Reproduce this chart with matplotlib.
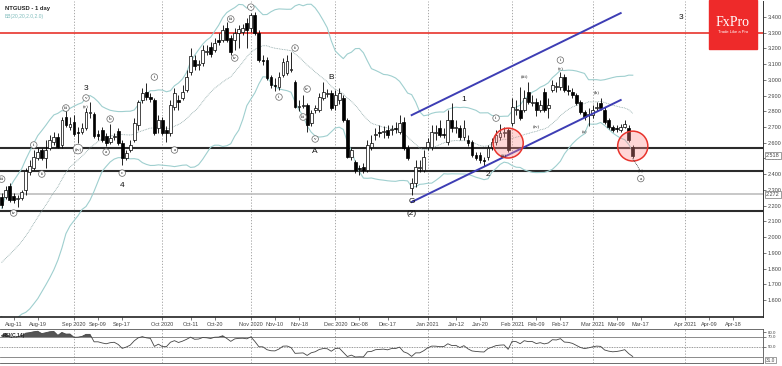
import numpy as np
import pandas as pd
import matplotlib
matplotlib.use("Agg")
import matplotlib.pyplot as plt
from matplotlib.patches import Ellipse
import matplotlib.transforms as mtrans

# ---------------- data ----------------
start_date = "2020-08-06"
opens = [2.255,2.255,2.325,2.261,2.242,2.249,2.299,2.414,2.439,2.503,2.554,2.503,2.567,2.605,2.637,2.586,2.764,2.700,2.732,2.668,
         2.668,2.694,2.789,2.783,2.656,2.681,2.643,2.605,2.637,2.675,2.598,2.503,2.554,2.617,2.713,2.872,2.923,2.891,2.872,2.694,
         2.745,2.681,2.662,2.827,2.872,2.885,2.936,3.050,3.126,3.095,3.107,3.177,3.209,3.190,3.254,3.254,3.330,3.266,3.254,3.298,
         3.304,3.362,3.330,3.413,3.298,3.126,3.126,3.018,2.967,2.955,3.031,3.044,3.063,2.986,2.827,2.834,2.840,2.726,2.808,2.808,
         2.885,2.910,2.916,2.840,2.872,2.885,2.745,2.509,2.478,2.439,2.446,2.427,2.573,2.649,2.668,2.668,2.681,2.681,2.694,2.668,
         2.732,2.567,2.312,2.344,2.439,2.427,2.573,2.573,2.662,2.694,2.656,2.605,2.745,2.694,2.694,2.637,2.617,2.605,2.522,2.522,
         2.490,2.509,2.573,2.605,2.637,2.662,2.681,2.726,2.808,2.808,2.808,2.923,2.853,2.859,2.808,2.923,2.821,2.936,2.955,2.955,
         3.018,2.936,2.923,2.904,2.859,2.796,2.776,2.776,2.821,2.853,2.808,2.745,2.700,2.694,2.681,2.700,2.694,2.573]
highs = [2.280,2.325,2.344,2.280,2.268,2.299,2.439,2.490,2.554,2.567,2.567,2.617,2.649,2.668,2.662,2.764,2.808,2.764,2.776,2.700,
         2.726,2.821,2.859,2.796,2.681,2.700,2.662,2.719,2.662,2.694,2.617,2.554,2.617,2.757,2.872,2.948,2.980,2.916,2.885,2.776,
         2.764,2.707,2.872,2.948,2.904,2.967,3.063,3.203,3.158,3.126,3.222,3.222,3.241,3.266,3.298,3.349,3.368,3.285,3.330,3.349,
         3.355,3.393,3.425,3.432,3.317,3.158,3.145,3.031,3.012,3.050,3.139,3.158,3.177,2.999,2.872,2.904,2.853,2.808,2.840,2.916,
         2.986,2.942,2.936,2.936,2.948,2.904,2.757,2.567,2.490,2.458,2.471,2.617,2.649,2.694,2.713,2.707,2.713,2.713,2.732,2.776,
         2.764,2.586,2.376,2.490,2.490,2.554,2.630,2.713,2.713,2.745,2.694,2.808,2.853,2.745,2.713,2.745,2.649,2.617,2.541,2.541,
         2.509,2.586,2.630,2.681,2.719,2.700,2.694,2.885,2.872,2.955,2.936,2.986,2.904,2.885,2.872,2.948,2.885,2.999,2.986,3.050,
         3.037,2.967,2.948,2.916,2.872,2.808,2.821,2.840,2.859,2.885,2.827,2.757,2.713,2.713,2.719,2.745,2.713,2.586]
lows = [2.185,2.242,2.223,2.217,2.191,2.236,2.268,2.395,2.427,2.490,2.490,2.439,2.554,2.586,2.567,2.567,2.700,2.681,2.643,2.598,
        2.656,2.681,2.757,2.630,2.617,2.605,2.579,2.592,2.617,2.586,2.458,2.490,2.541,2.605,2.681,2.853,2.872,2.859,2.649,2.662,
        2.649,2.605,2.643,2.808,2.808,2.872,2.923,3.031,3.063,3.063,3.088,3.158,3.145,3.177,3.222,3.241,3.241,3.158,3.190,3.203,
        3.285,3.203,3.304,3.285,3.114,3.095,2.999,2.948,2.929,2.936,3.018,3.031,3.050,2.821,2.802,2.821,2.668,2.707,2.789,2.796,
        2.872,2.891,2.808,2.808,2.846,2.732,2.503,2.490,2.408,2.395,2.408,2.414,2.554,2.617,2.637,2.630,2.630,2.649,2.662,2.656,
        2.554,2.490,2.268,2.318,2.414,2.414,2.554,2.554,2.617,2.637,2.630,2.586,2.668,2.662,2.617,2.617,2.579,2.509,2.490,2.471,
        2.452,2.490,2.554,2.586,2.617,2.637,2.541,2.707,2.776,2.745,2.796,2.846,2.834,2.770,2.796,2.796,2.757,2.923,2.923,2.936,
        2.923,2.904,2.885,2.840,2.783,2.745,2.707,2.757,2.802,2.808,2.719,2.687,2.668,2.668,2.668,2.694,2.605,2.503]
closes = [2.204,2.299,2.236,2.236,2.249,2.287,2.420,2.452,2.509,2.541,2.503,2.554,2.617,2.637,2.573,2.745,2.713,2.719,2.656,2.662,
          2.694,2.796,2.796,2.643,2.643,2.617,2.598,2.630,2.643,2.598,2.503,2.535,2.586,2.726,2.859,2.916,2.891,2.878,2.662,2.745,
          2.662,2.662,2.840,2.916,2.859,2.923,3.018,3.152,3.088,3.101,3.190,3.184,3.165,3.234,3.241,3.317,3.254,3.177,3.298,3.324,
          3.330,3.317,3.413,3.298,3.126,3.122,3.012,2.967,2.961,3.018,3.114,3.120,3.069,2.827,2.834,2.840,2.713,2.789,2.821,2.891,
          2.923,2.916,2.821,2.904,2.916,2.745,2.509,2.554,2.427,2.433,2.427,2.586,2.598,2.656,2.665,2.675,2.649,2.687,2.687,2.726,
          2.567,2.503,2.344,2.446,2.446,2.509,2.605,2.668,2.665,2.649,2.652,2.745,2.694,2.700,2.637,2.694,2.598,2.522,2.503,2.490,
          2.484,2.567,2.605,2.649,2.662,2.668,2.554,2.827,2.815,2.757,2.885,2.859,2.862,2.808,2.840,2.808,2.840,2.967,2.961,3.018,
          2.936,2.929,2.904,2.853,2.796,2.764,2.783,2.808,2.827,2.821,2.732,2.700,2.681,2.687,2.700,2.719,2.617,2.518]
# closes of the 20 sessions before the first visible bar (band / RSI warm-up)
pre_closes = [1.80,1.78,1.74,1.72,1.70,1.69,1.72,1.70,1.68,1.72,1.75,1.78,1.80,1.83,1.86,1.80,1.84,2.05,2.18,2.22]

tick_labels = ["Aug-11","Aug-19","Sep 2020","Sep-09","Sep-17","Oct 2020","Oct-11","Oct-20","Nov 2020","Nov-10","Nov-18",
               "Dec 2020","Dec-08","Dec-17","Jan 2021","Jan-12","Jan-20","Feb 2021","Feb-09","Feb-17","Mar 2021","Mar-09",
               "Mar-17","Apr 2021","Apr-09","Apr-18"]
tick_dates = ["2020-08-11","2020-08-19","2020-09-01","2020-09-09","2020-09-17","2020-10-01","2020-10-11","2020-10-20",
              "2020-11-02","2020-11-10","2020-11-18","2020-12-01","2020-12-09","2020-12-18","2021-01-01","2021-01-12",
              "2021-01-20","2021-02-01","2021-02-09","2021-02-17","2021-03-01","2021-03-09","2021-03-17","2021-04-01",
              "2021-04-09","2021-04-18"]
month_starts = ["2020-09-01","2020-10-01","2020-11-02","2020-12-01","2021-01-01","2021-02-01","2021-03-01","2021-04-01"]

red_level = 3.300
black_levels = [2.567, 2.420, 2.166]
gray_level = 2.272
current_price = 2.518

# channel anchors (date, price)
channel_upper = [("2020-12-28", 2.776), ("2021-03-10", 3.425)]
channel_lower = [("2020-12-28", 2.223), ("2021-03-10", 2.872)]
# highlighted zones (date, price)
circles = [("2021-01-29", 2.598), ("2021-03-15", 2.579)]

# wave labels: (text, date, price, circled)
wave_labels = [
    ("iii","2020-08-06",2.369,True),("iv","2020-08-11",2.153,True),("i","2020-08-18",2.586,True),
    ("ii","2020-08-20",2.401,True),("iii","2020-08-28",2.821,True),("(iv)","2020-09-02",2.560,True),
    ("v","2020-09-04",2.885,True),("(v)","2020-09-04",2.827,False),("b","2020-09-14",2.751,True),
    ("a","2020-09-11",2.541,True),("c","2020-09-17",2.407,True),("i","2020-09-29",3.018,True),
    ("a","2020-10-06",2.554,True),("iii","2020-10-26",3.387,True),("iv","2020-10-27",3.139,True),
    ("v","2020-11-02",3.463,True),("i","2020-11-11",2.891,True),("ii","2020-11-17",3.203,True),
    ("iv","2020-11-20",2.942,True),("iii","2020-11-19",2.764,True),("v","2020-11-24",2.624,True),
    ("i","2021-01-26",2.757,True),("(ii)","2021-01-28",2.522,False),("(iii)","2021-02-04",3.025,False),
    ("(iv)","2021-02-09",2.706,False),("i","2021-02-17",3.126,True),("(v)","2021-02-17",3.069,False),
    ("(a)","2021-02-25",2.668,False),("(b)","2021-03-02",2.923,False),("(b)","2021-03-17",2.425,False),
    ("a","2021-03-17",2.372,True),
]
big_labels = [("3","2020-09-04",2.948),("4","2020-09-17",2.331),("A","2020-11-24",2.547),("B","2020-11-30",3.018),
              ("1","2021-01-14",2.878),("G","2020-12-28",2.229),("(2)","2020-12-28",2.153),("2","2021-01-22",2.395),
              ("3","2021-03-31",3.400)]

# ---------------- derived ----------------
n = len(closes)
all_days = pd.bdate_range(start_date, "2021-06-30")
def xi(d):
    return int(all_days.searchsorted(pd.Timestamp(d)))

o = np.array(opens); h = np.array(highs); l = np.array(lows); c = np.array(closes)
idx = np.arange(n)

s = pd.Series(list(pre_closes) + list(closes))
mid = s.rolling(20).mean()
sd = s.rolling(20).std(ddof=0)
upper = (mid + 2 * sd).values[len(pre_closes):]
lower = (mid - 2 * sd).values[len(pre_closes):]
mid = mid.values[len(pre_closes):]

d = s.diff()
up = d.clip(lower=0).ewm(alpha=1/14, adjust=False).mean()
dn = (-d.clip(upper=0)).ewm(alpha=1/14, adjust=False).mean()
rsi = (100 - 100 / (1 + up / dn)).values[len(pre_closes):]

# ---------------- figure ----------------
W, H = 782, 366
fig = plt.figure(figsize=(W/100, H/100), dpi=100)
plt.rcParams['font.family'] = ['Liberation Sans', 'DejaVu Sans']
ax = fig.add_axes([0, 1-317/H, 763/W, 316/H])
rax = fig.add_axes([0, 1-363/H, 763/W, 34/H])

xmin, xmax = -0.4, 189.4
ax.set_xlim(xmin, xmax); rax.set_xlim(xmin, xmax)
ax.set_ylim(1.4915, 3.502)

for m in month_starts:
    for a in (ax, rax):
        a.axvline(xi(m), color="#9a9a9a", lw=0.6, ls=(0, (1.5, 2)), zorder=0)

ax.axhline(red_level, color="#e8332c", lw=1.2, zorder=1)
for lv in black_levels:
    ax.axhline(lv, color="#2b2b2b", lw=1.5, zorder=1)
ax.axhline(gray_level, color="#bdbdbd", lw=1.2, zorder=1)

band_c = "#9fcfcf"
ax.plot(idx, upper, color=band_c, lw=0.8, zorder=2)
ax.plot(idx, lower, color=band_c, lw=0.8, zorder=2)
ax.plot(idx, mid, color="#8aa5a5", lw=0.6, ls=(0, (1, 1)), zorder=2)

ax.vlines(idx, l, h, color="black", lw=0.6, zorder=3)
bull = c >= o
body_lo = np.minimum(o, c)
body_h = np.maximum(np.abs(c - o), 0.004)
ax.bar(idx[bull], body_h[bull], bottom=body_lo[bull], width=0.7, color="white", edgecolor="black", lw=0.5, zorder=4)
ax.bar(idx[~bull], body_h[~bull], bottom=body_lo[~bull], width=0.7, color="black", edgecolor="black", lw=0.5, zorder=4)

for ch in (channel_upper, channel_lower):
    ax.plot([xi(ch[0][0]), xi(ch[1][0])], [ch[0][1], ch[1][1]], color="#3d3db4", lw=1.4, zorder=5)

for dd, pp in circles:
    ax.add_patch(Ellipse((xi(dd), pp), 7.5, 0.19, facecolor=(1, 0.55, 0.55, 0.35), edgecolor="#e8332c", lw=1.1, zorder=6))

ax.plot([n-1, n+0.6], [2.50, 2.435], color="#333333", lw=0.6, ls=(0, (1, 1)), zorder=6)

for t, dd, pp, circ in wave_labels:
    kw = dict(ha="center", va="center", fontsize=3.6, family="Liberation Serif", color="#222222", zorder=7)
    if circ:
        kw["bbox"] = dict(boxstyle="circle,pad=0.25", fc="white", ec="#666666", lw=0.5)
    ax.text(xi(dd), pp, t, **kw)
for t, dd, pp in big_labels:
    ax.text(xi(dd), pp, t, ha="center", va="center", fontsize=6, color="#111111", zorder=7)

ax.yaxis.tick_right()
yt = np.round(np.arange(1.6, 3.41, 0.1), 1)
ax.set_yticks(yt)
ax.set_yticklabels([f"{v:.3f}" for v in yt])
ax.tick_params(axis="y", direction="out", length=2, width=0.5, pad=1.5, labelsize=4, colors="#444444")
ax.set_xticks([xi(dd) for dd in tick_dates])
ax.set_xticklabels(tick_labels)
ax.tick_params(axis="x", direction="out", length=2, width=0.5, pad=1.5, labelsize=4, colors="#444444")
for sp in ("left", "top"):
    ax.spines[sp].set_visible(False)
ax.spines["right"].set_color("#333333"); ax.spines["right"].set_linewidth(0.7)
ax.spines["bottom"].set_color("#222222"); ax.spines["bottom"].set_linewidth(1.2)

blend = mtrans.blended_transform_factory(ax.transAxes, ax.transData)
for val in (current_price, gray_level):
    ax.text(1.004, val, f"{val:.3f}", transform=blend, fontsize=4, color="#444444", va="center", ha="left",
            bbox=dict(boxstyle="square,pad=0.15", fc="white", ec="#777777", lw=0.5), clip_on=False, zorder=8)

ax.text(0.006, 0.985, "NTGUSD - 1 day", transform=ax.transAxes, fontsize=4.2, fontweight="bold", color="#222222", va="top")
ax.text(0.006, 0.958, "BB(20,20,2.0,2.0)", transform=ax.transAxes, fontsize=3.6, color="#7fbcbc", va="top")

fig.patches.append(matplotlib.patches.Rectangle((709/W, 1-49/H), 48/W, 49/H, transform=fig.transFigure,
                                                 color="#ee2a2a", zorder=10))
fig.text(733/W, 1-22/H, "FxPro", ha="center", va="center", color="white", fontsize=10, family="Liberation Serif", zorder=11)
fig.text(733/W, 1-32/H, "Trade Like a Pro", ha="center", va="center", color="white", fontsize=3, zorder=11)

rax.set_ylim(18, 86)
rax.axhline(70, color="#777777", lw=0.6)
rax.axhline(30, color="#777777", lw=0.6)
rax.axhline(50, color="#777777", lw=0.6, ls=(0, (1, 1)))
rax.plot(idx, rsi, color="#444444", lw=0.6)
rax.fill_between(idx, rsi, 70, where=rsi > 70, color="#555555", interpolate=True, lw=0)
rax.fill_between(idx, rsi, 30, where=rsi < 30, color="#555555", interpolate=True, lw=0)
rax.yaxis.tick_right()
rax.set_yticks([50, 70, 80])
rax.set_yticklabels(["50.0", "70.0", "80.0"])
rax.tick_params(axis="y", direction="out", length=2, width=0.5, pad=1.5, labelsize=3.2, colors="#444444")
rax.set_xticks([])
rax.spines["left"].set_visible(False)
for sp in ("top", "bottom", "right"):
    rax.spines[sp].set_color("#555555"); rax.spines[sp].set_linewidth(0.6)
rax.text(0.004, 0.88, "RSI(C,14)", transform=rax.transAxes, fontsize=3.6, fontweight="bold", color="#222222", va="top")
blend2 = mtrans.blended_transform_factory(rax.transAxes, rax.transData)
rax.text(1.004, 24, f"{rsi[-1]:.1f}", transform=blend2, fontsize=3.4, color="#444444", va="center", ha="left",
         bbox=dict(boxstyle="square,pad=0.15", fc="white", ec="#777777", lw=0.5), clip_on=False)

fig.savefig("out.png", dpi=100)
